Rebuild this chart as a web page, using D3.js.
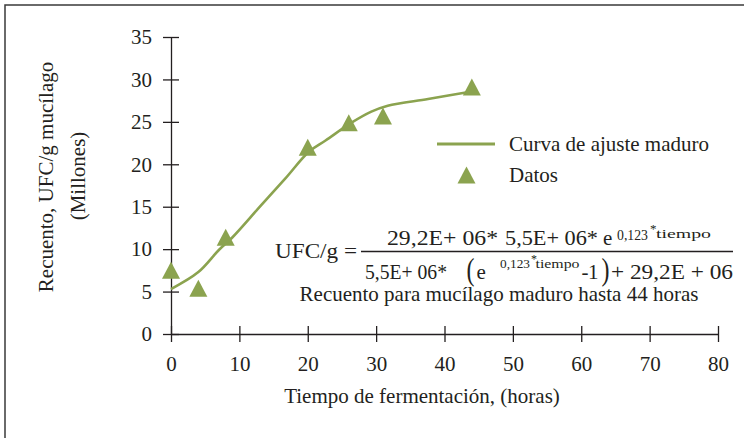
<!DOCTYPE html>
<html>
<head>
<meta charset="utf-8">
<script src="https://cdn.jsdelivr.net/npm/d3@7"></script>
<style>
  body { margin: 0; background: #fff; }
  svg { display: block; }
  text { font-family: "Liberation Serif", "Times New Roman", serif; fill: #231f20; }
</style>
</head>
<body>
<svg id="chart" width="744" height="438"></svg>
<script>
// datos medidos (triangulos)
const tiempo = [0, 4, 8, 20, 26, 31, 44];
const recuento = [7.5, 5.4, 11.4, 22.0, 24.9, 25.7, 29.1];

// curva de ajuste
const curvaTiempo = [0, 4, 7, 9, 13, 16.7, 20.2, 22.6, 26.4, 29.3, 31.7, 37.6, 44.2];
const curvaRecuento = [5.3, 7.3, 9.9, 11.4, 15.0, 18.3, 21.5, 22.8, 24.9, 26.2, 26.9, 27.7, 28.6];

const xTicks = [0, 10, 20, 30, 40, 50, 60, 70, 80];
const yTicks = [0, 5, 10, 15, 20, 25, 30, 35];

const green = '#8ba34f';
const ink = '#231f20';

const svg = d3.select('#chart');

// marco (solo borde superior e izquierdo visibles)
svg.append('path')
    .attr('d', 'M5,440V5H746')
    .attr('fill', 'none')
    .attr('stroke', '#3a3a3a')
    .attr('stroke-width', 1.5);

const x = d3.scaleLinear().domain([0, 80]).range([171, 718]);
const y = d3.scaleLinear().domain([0, 35]).range([334, 37]);

// eje x
const xAxisG = svg.append('g')
    .attr('transform', `translate(0, ${y(0)})`)
    .call(d3.axisBottom(x).tickValues(xTicks).tickSize(8).tickSizeOuter(0).tickPadding(14));
xAxisG.selectAll('.tick line').attr('y1', -8);

// eje y
const yAxisG = svg.append('g')
    .attr('transform', `translate(${x(0)}, 0)`)
    .call(d3.axisLeft(y).tickValues(yTicks).tickSize(8).tickSizeOuter(0).tickPadding(11));
yAxisG.selectAll('.tick line').attr('x1', 8);

[xAxisG, yAxisG].forEach(a => {
  a.selectAll('path, line').attr('stroke', ink).attr('stroke-width', 1.3);
  a.selectAll('text')
      .style('font-family', '"Liberation Serif", serif')
      .style('font-size', '21px')
      .attr('fill', ink);
});

// titulos de ejes
svg.append('text')
    .attr('x', 422).attr('y', 403)
    .attr('text-anchor', 'middle')
    .style('font-size', '21px')
    .text('Tiempo de fermentación, (horas)');

svg.append('text')
    .attr('transform', 'translate(52.5, 177) rotate(-90)')
    .attr('text-anchor', 'middle')
    .style('font-size', '21px')
    .text('Recuento, UFC/g mucílago');

svg.append('text')
    .attr('transform', 'translate(84.5, 176) rotate(-90)')
    .attr('text-anchor', 'middle')
    .style('font-size', '21px')
    .text('(Millones)');

// curva de ajuste
const line = d3.line()
    .x((d, i) => x(curvaTiempo[i]))
    .y(d => y(d))
    .curve(d3.curveCatmullRom.alpha(0.5));

svg.append('path')
    .datum(curvaRecuento)
    .attr('d', line)
    .attr('fill', 'none')
    .attr('stroke', green)
    .attr('stroke-width', 2.6);

// triangulo centrado en su caja
const triW = 18, triH = 17;
const triangle = `M0,${-triH / 2}L${triW / 2},${triH / 2}L${-triW / 2},${triH / 2}Z`;

svg.append('g').selectAll('path')
    .data(recuento)
    .join('path')
    .attr('d', triangle)
    .attr('transform', (d, i) => `translate(${x(tiempo[i])}, ${y(d)})`)
    .attr('fill', green);

// leyenda
svg.append('line')
    .attr('x1', 437).attr('x2', 495)
    .attr('y1', 144).attr('y2', 144)
    .attr('stroke', green)
    .attr('stroke-width', 3);
svg.append('text')
    .attr('x', 509).attr('y', 151)
    .style('font-size', '21px')
    .text('Curva de ajuste maduro');
svg.append('path')
    .attr('d', triangle)
    .attr('transform', 'translate(466.5, 175)')
    .attr('fill', green);
svg.append('text')
    .attr('x', 509).attr('y', 182)
    .style('font-size', '21px')
    .text('Datos');

// ecuacion
const eq = svg.append('g');
function piece(txt, px, py, size, len) {
  const t = eq.append('text')
      .attr('x', px).attr('y', py)
      .style('font-size', size + 'px')
      .text(txt);
  if (len) t.attr('textLength', len).attr('lengthAdjust', 'spacingAndGlyphs');
  return t;
}
function paren(txt, px, py) {
  eq.append('text')
      .attr('transform', `translate(${px}, ${py}) scale(1, 1.3)`)
      .style('font-size', '24px')
      .text(txt);
}

piece('UFC/g =', 275, 258, 21, 82);

eq.append('line')
    .attr('x1', 361).attr('x2', 733)
    .attr('y1', 251.5).attr('y2', 251.5)
    .attr('stroke', ink)
    .attr('stroke-width', 1.5);

// numerador
piece('29,2E+ 06*', 387, 245, 21, 111);
piece('5,5E+ 06*', 505, 245, 21, 93);
piece('e', 603, 245, 21);
piece('0,123', 617, 240, 14, 31);
piece('*', 650, 233, 13);
piece('tiempo', 656, 238, 13, 55);

// denominador
piece('5,5E+ 06*', 365, 279, 21, 82);
paren('(', 466.5, 280);
piece('e', 476.5, 278.5, 21);
piece('0,123', 500, 268, 13, 30);
piece('*', 531, 263, 12);
piece('tiempo', 535.5, 268, 12, 44);
piece('-', 581.5, 278.5, 21);
piece('1', 588, 279, 21);
paren(')', 601.5, 280);
piece('+ 29,2E + 06', 611, 279, 21, 122);

svg.append('text')
    .attr('x', 499).attr('y', 301)
    .attr('text-anchor', 'middle')
    .style('font-size', '21px')
    .text('Recuento para mucílago maduro hasta 44 horas');
</script>
</body>
</html>
